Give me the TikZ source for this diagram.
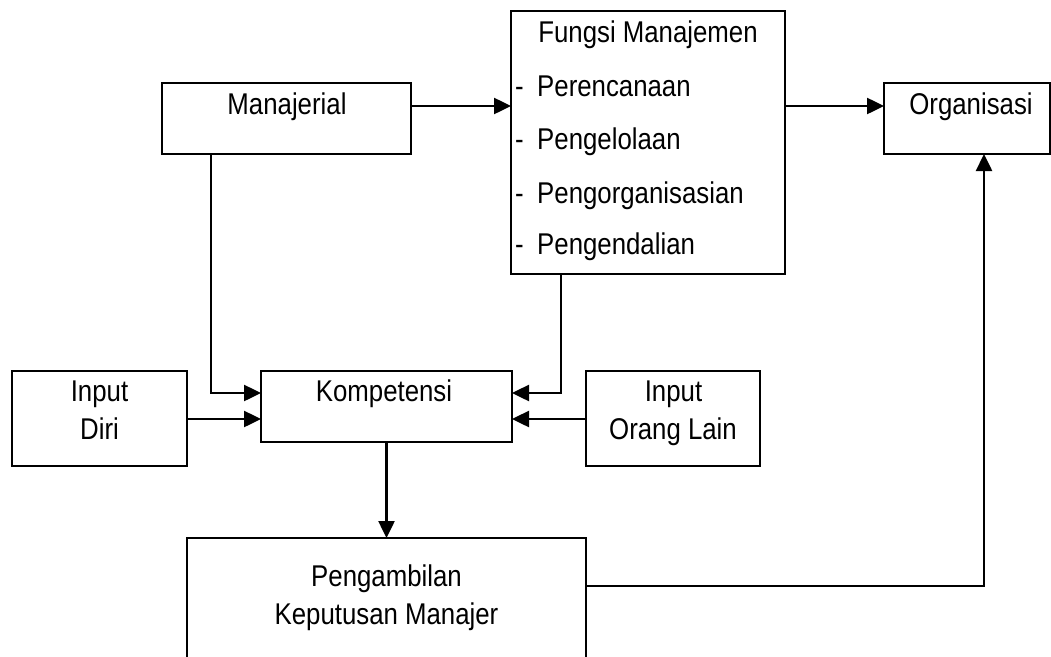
\documentclass[tikz,border=0pt]{standalone}
\usepackage{fontspec}
\setmainfont{Liberation Sans}[FakeStretch=0.86]
\usetikzlibrary{arrows.meta}
\begin{document}
\begin{tikzpicture}[x=1pt,y=-1pt,
  box/.style={draw, line width=2.3pt, rectangle, inner sep=0pt, outer sep=0pt},
  lbl/.style={inner sep=0pt, anchor=base, font=\fontsize{30}{36}\selectfont},
  item/.style={inner sep=0pt, anchor=base west, font=\fontsize{30}{36}\selectfont},
  arr/.style={line width=2.5pt, -{Triangle[length=17pt,width=16pt]}}]
\clip (0,0) rectangle (1051,656);
% boxes
\node[box, minimum width=249pt, minimum height=71pt] (mnj) at (286.5,118.5) {};
\node[box, minimum width=274pt, minimum height=263pt] (fm) at (648,142.5) {};
\node[box, minimum width=166pt, minimum height=71pt] (org) at (967,118.5) {};
\node[box, minimum width=175pt, minimum height=95pt] (diri) at (99.5,418.5) {};
\node[box, minimum width=251pt, minimum height=71pt] (komp) at (386.5,406.5) {};
\node[box, minimum width=174pt, minimum height=95pt] (lain) at (673,418.5) {};
\node[box, minimum width=399pt, minimum height=124pt] (amb) at (386.5,600) {};
% labels
\node[lbl] (tmnj) at (287,114) {Manajerial};
\node[lbl] (torg) at (971,114) {Organisasi};
\node[lbl] (tfm) at (648,42) {Fungsi Manajemen};
\node[item] (d1) at (515,96) {-};
\node[item] (i1) at (537,96) {Perencanaan};
\node[item] (d2) at (515,149) {-};
\node[item] (i2) at (537,149) {Pengelolaan};
\node[item] (d3) at (515,203) {-};
\node[item] (i3) at (537,203) {Pengorganisasian};
\node[item] (d4) at (515,254) {-};
\node[item] (i4) at (537,254) {Pengendalian};
\node[lbl] (tdiri1) at (99.5,401) {Input};
\node[lbl] (tdiri2) at (99.5,439) {Diri};
\node[lbl] (tkomp) at (384,401) {Kompetensi};
\node[lbl] (tlain1) at (673.5,401) {Input};
\node[lbl] (tlain2) at (673,439) {Orang Lain};
\node[lbl] (tamb1) at (386.5,586) {Pengambilan};
\node[lbl] (tamb2) at (386.5,624) {Keputusan Manajer};
% connectors
\draw[arr] ([yshift=12.5pt]mnj.east) -- ([yshift=12.5pt]mnj.east -| fm.west);
\draw[arr] ([yshift=12.5pt]org.west -| fm.east) -- ([yshift=12.5pt]org.west);
\draw[arr] ([xshift=-75.5pt]mnj.south) |- ([yshift=13.5pt]komp.west);
\draw[arr] ([yshift=-12.5pt]komp.west -| diri.east) -- ([yshift=-12.5pt]komp.west);
\draw[arr] ([xshift=-87pt]fm.south) |- ([yshift=13.5pt]komp.east);
\draw[arr] ([yshift=-12.5pt]komp.east -| lain.west) -- ([yshift=-12.5pt]komp.east);
\draw[arr] (komp.south) -- (komp.south |- amb.north);
\draw[arr] ([yshift=14pt]amb.east) -| ([xshift=17pt]org.south);
\end{tikzpicture}
\end{document}
